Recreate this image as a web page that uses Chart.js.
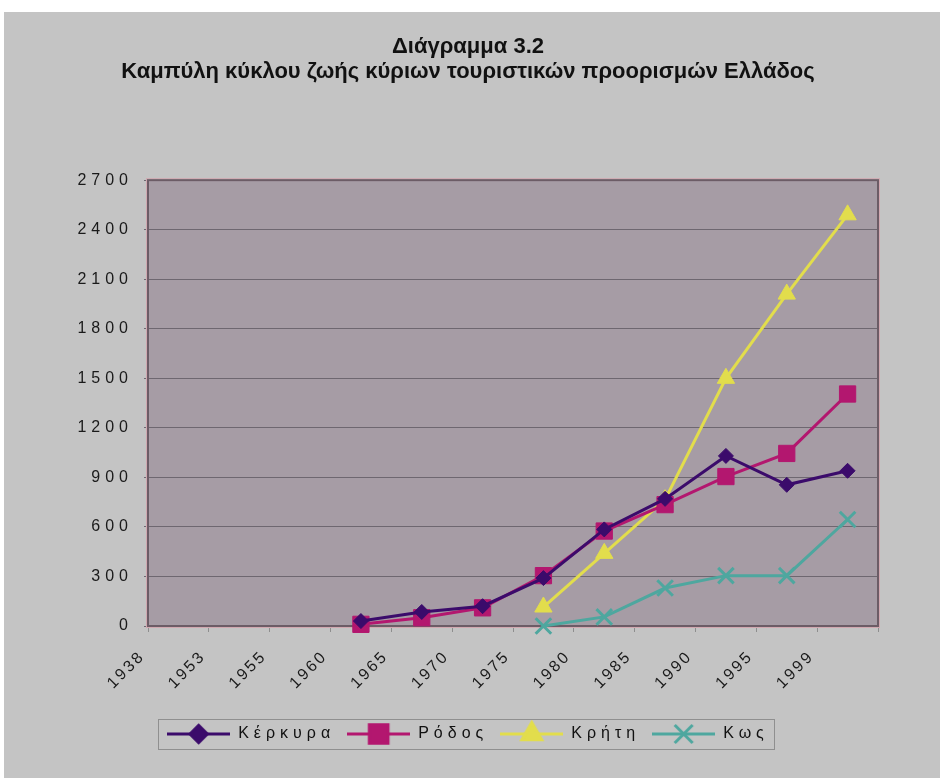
<!DOCTYPE html>
<html>
<head>
<meta charset="utf-8">
<script src="https://cdn.jsdelivr.net/npm/chart.js@4.4.1/dist/chart.umd.min.js"></script>
<style>
  html, body { margin: 0; padding: 0; background: #ffffff; }
  #wrap { position: absolute; left: 4px; top: 12px; width: 936px; height: 766px; background: #c4c4c4; }
  canvas { display: block; }
</style>
</head>
<body>
<div id="wrap"><canvas id="chart-canvas" width="936" height="766"></canvas></div>
<script>
// categories and series
const years = ['1938', '1953', '1955', '1960', '1965', '1970', '1975', '1980', '1985', '1990', '1995', '1999'];
const kerkyra = [null, null, null, 30, 85, 120, 290, 585, 770, 1030, 855, 940];
const rodos = [null, null, null, 10, 50, 110, 305, 575, 735, 905, 1045, 1405];
const kriti = [null, null, null, null, null, null, 115, 440, 765, 1500, 2010, 2490];
const kos = [null, null, null, null, null, null, 0, 55, 230, 305, 305, 645];
const seriesNames = ['Κέρκυρα', 'Ρόδος', 'Κρήτη', 'Κως'];
const titleLines = ['Διάγραμμα 3.2', 'Καμπύλη κύκλου ζωής κύριων τουριστικών προορισμών Ελλάδος'];

const FONT = "'Liberation Sans', Arial, sans-serif";
const SPACING = '5px';      // the scan has widely spaced axis/legend text
const X_SPACING = '2.5px';
const PAGE_SHIFT = 27;      // title and legend are centred on the page, not on the plot

let chartCanvas = document.getElementById('chart-canvas');

// little "line + marker" swatches for the legend, like the Excel legend
function markerPath(g, shape, x, y, r) {
    g.beginPath();
    if (shape === 'rectRot') {
        g.moveTo(x - r, y); g.lineTo(x, y - r); g.lineTo(x + r, y); g.lineTo(x, y + r); g.closePath();
    } else if (shape === 'rect') {
        let s = r * Math.SQRT1_2;
        g.rect(x - s, y - s, 2 * s, 2 * s);
    } else if (shape === 'triangle') {
        g.moveTo(x, y - r);
        g.lineTo(x + r * 0.866, y + r / 2);
        g.lineTo(x - r * 0.866, y + r / 2);
        g.closePath();
    } else {
        let s = r * Math.SQRT1_2;
        g.moveTo(x - s, y - s); g.lineTo(x + s, y + s);
        g.moveTo(x + s, y - s); g.lineTo(x - s, y + s);
    }
}

function legendIcon(color, shape, r) {
    let c = document.createElement('canvas');
    c.width = 63;
    c.height = 30;
    let g = c.getContext('2d');
    g.strokeStyle = color;
    g.fillStyle = color;
    g.lineWidth = 3;
    g.beginPath(); g.moveTo(0, 15); g.lineTo(63, 15); g.stroke();
    markerPath(g, shape, 31.5, 15, r);
    if (shape !== 'crossRot') g.fill();
    g.stroke();
    return c;
}

const colors = ['#3b0b6b', '#b3176f', '#e2dd4c', '#4ea79f'];
const shapes = ['rectRot', 'rect', 'triangle', 'crossRot'];
const radii = [7.5, 11.5, 10, 11];
const icons = colors.map((c, i) => legendIcon(c, shapes[i], radii[i] * 1.15));

// run a box's draw method with a given letter spacing (and shift)
function wrapDraw(obj, name, spacing, dx) {
    if (!obj || obj['_wrapped_' + name]) return;
    let orig = obj[name];
    obj[name] = function () {
        let c = this.ctx;
        let ls = c.letterSpacing;
        c.save();
        c.translate(dx || 0, 0);
        c.letterSpacing = spacing;
        orig.apply(this, arguments);
        c.restore();
        c.letterSpacing = ls;
    };
    obj['_wrapped_' + name] = true;
}

const plotFrame = {
    id: 'plotFrame',
    beforeLayout(chart) {
        chart.ctx.letterSpacing = SPACING;
    },
    beforeDraw(chart) {
        let ctx = chart.ctx;
        let a = chart.chartArea;
        ctx.letterSpacing = SPACING;
        ctx.save();
        ctx.fillStyle = '#a69ca5';
        ctx.fillRect(a.left, a.top, a.right - a.left, a.bottom - a.top);
        ctx.restore();
        wrapDraw(chart.titleBlock, 'draw', '0px', PAGE_SHIFT);
        wrapDraw(chart.legend, 'draw', SPACING, PAGE_SHIFT);
        wrapDraw(chart.scales.x, 'drawLabels', X_SPACING, 0);
    },
    beforeDatasetsDraw(chart) {
        let ctx = chart.ctx;
        let a = chart.chartArea;
        ctx.save();
        ctx.strokeStyle = '#d0a8b0';
        ctx.lineWidth = 1;
        ctx.strokeRect(a.left - 1.5, a.top - 1.5, a.right - a.left + 3, a.bottom - a.top + 3);
        ctx.strokeStyle = '#6c5c66';
        ctx.lineWidth = 2;
        ctx.strokeRect(a.left, a.top, a.right - a.left, a.bottom - a.top);
        ctx.restore();
    },
    afterDraw(chart) {
        let boxes = chart.legend.legendHitBoxes;
        if (!boxes || !boxes.length) return;
        let l = Math.min(...boxes.map(b => b.left)) + PAGE_SHIFT;
        let r = Math.max(...boxes.map(b => b.left + b.width)) + PAGE_SHIFT;
        let t = Math.min(...boxes.map(b => b.top));
        let h = Math.max(...boxes.map(b => b.height));
        let ctx = chart.ctx;
        ctx.save();
        ctx.strokeStyle = '#8f8f8f';
        ctx.lineWidth = 1;
        ctx.strokeRect(Math.round(l - 9) + 0.5, Math.round(t - 7) + 0.5, Math.round(r - l + 14), Math.round(h + 14));
        ctx.restore();
    }
};

function series(label, data, i) {
    return {
        label: label,
        data: data,
        borderColor: colors[i],
        backgroundColor: colors[i],
        borderWidth: 3,
        pointStyle: shapes[i],
        pointRadius: radii[i],
        pointHoverRadius: radii[i],
        pointBorderWidth: shapes[i] === 'crossRot' ? 3 : 1,
        pointBorderColor: colors[i],
        pointBackgroundColor: colors[i],
        tension: 0,
        fill: false,
        clip: false,
        spanGaps: false
    };
}

const myChart = new Chart(chartCanvas, {
    type: 'line',
    data: {
        labels: years,
        datasets: [
            series(seriesNames[0], kerkyra, 0),
            series(seriesNames[1], rodos, 1),
            series(seriesNames[2], kriti, 2),
            series(seriesNames[3], kos, 3)
        ]
    },
    options: {
        responsive: false,
        animation: false,
        layout: { padding: { left: 0, right: 62, top: 0, bottom: 26 } },
        plugins: {
            title: {
                display: true,
                text: titleLines,
                color: '#111111',
                font: { family: FONT, size: 22, weight: 'bold', lineHeight: 1.14 },
                padding: { top: 22, bottom: 96 }
            },
            legend: {
                position: 'bottom',
                labels: {
                    usePointStyle: true,
                    pointStyleWidth: 63,
                    padding: 12,
                    color: '#111111',
                    font: { family: FONT, size: 16 },
                    generateLabels(chart) {
                        let items = Chart.defaults.plugins.legend.labels.generateLabels(chart);
                        items.forEach((it, i) => { it.pointStyle = icons[i]; });
                        return items;
                    }
                }
            },
            tooltip: { enabled: false }
        },
        scales: {
            x: {
                type: 'category',
                offset: true,
                afterFit(scale) { scale.height = 88; },
                border: { display: false },
                grid: { display: true, offset: true, drawOnChartArea: false, drawTicks: true, tickLength: 6, color: '#8e8e8e' },
                ticks: {
                    autoSkip: false,
                    minRotation: 45,
                    maxRotation: 45,
                    labelOffset: -36,
                    padding: 15,
                    color: '#1a1a1a',
                    font: { family: FONT, size: 16 }
                }
            },
            y: {
                min: 0,
                max: 2700,
                afterFit(scale) { scale.width = 144; },
                border: { display: false },
                grid: { color: '#6e6770', lineWidth: 1, tickLength: 4 },
                ticks: {
                    stepSize: 300,
                    padding: 11,
                    color: '#1a1a1a',
                    font: { family: FONT, size: 16 },
                    callback: (v) => String(v)
                }
            }
        }
    },
    plugins: [plotFrame]
});
</script>
</body>
</html>
